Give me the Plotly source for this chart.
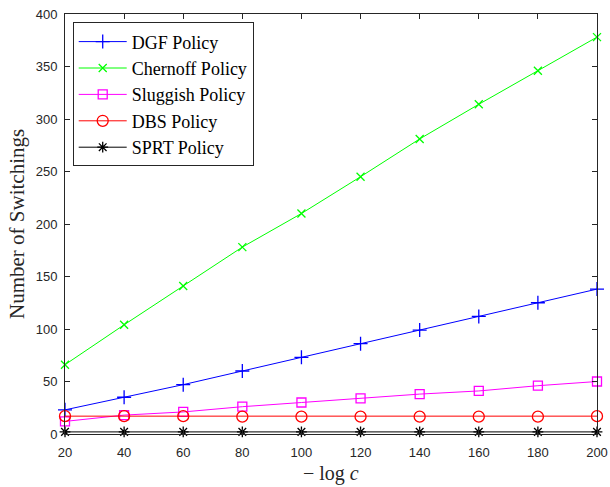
import plotly.graph_objects as go

x_vals = [20, 40, 60, 80, 100, 120, 140, 160, 180, 200]
dgf = [23, 35, 47, 60, 73, 86, 99, 112, 125, 138]
chernoff = [66, 104, 141, 178, 210, 245, 281, 314, 346, 378]
sluggish = [12, 18, 21, 26, 30, 34, 38, 41, 46, 50]
dbs = [17, 17, 17, 16.5, 16.5, 16.5, 16.5, 16.5, 16.5, 17]
sprt = [2, 2, 2, 2, 2, 2, 2, 2, 2, 2]

names = ["DGF Policy", "Chernoff Policy", "Sluggish Policy", "DBS Policy", "SPRT Policy"]
series = [dgf, chernoff, sluggish, dbs, sprt]
colors = ["#0000ff", "#00ff00", "#ff00ff", "#ff0000", "#000000"]
symbols = ["cross-thin-open", "x-thin-open", "square-open", "circle-open", "asterisk-open"]
sizes = [10, 8, 9, 11, 9]

SANS = "Arial"
SERIF = "Times New Roman"
AX = "#262626"

fig = go.Figure()
for n, s, c, sym, sz in zip(names, series, colors, symbols, sizes):
    fig.add_trace(go.Scatter(
        x=x_vals, y=s, name=n, mode="lines+markers", cliponaxis=False,
        line=dict(color=c, width=1),
        marker=dict(symbol=sym, size=sz, color=c, line=dict(color=c, width=1.3)),
    ))

axis_common = dict(
    showgrid=False, zeroline=False, showline=True, mirror="ticks",
    linecolor=AX, linewidth=1, ticks="inside", ticklen=5,
    tickcolor=AX, automargin=False, ticklabeloverflow="allow",
    tickfont=dict(family=SANS, size=13, color=AX),
)

fig.update_layout(
    width=610, height=487,
    margin=dict(l=65, r=13, t=14, b=53),
    paper_bgcolor="white", plot_bgcolor="white",
    xaxis=dict(range=[20, 200], tickvals=list(range(20, 201, 20)),
               ticklabelstandoff=6, **axis_common),
    yaxis=dict(range=[0, 400], tickvals=list(range(0, 401, 50)),
               ticklabelstandoff=4, **axis_common),
    legend=dict(x=0.0145, y=0.980, xanchor="left", yanchor="top",
                bgcolor="white", bordercolor=AX, borderwidth=1,
                font=dict(family=SERIF, size=18, color="#000000"),
                tracegroupgap=0, itemwidth=48),
    showlegend=True,
    annotations=[
        dict(text="\u2212 log <i>c</i>", xref="paper", yref="paper", x=0.5, y=-0.093,
             xanchor="center", yanchor="middle", showarrow=False,
             font=dict(family=SERIF, size=20, color=AX)),
        dict(text="Number of Switchings", xref="paper", yref="paper", x=-0.0902, y=0.5,
             xanchor="center", yanchor="middle", textangle=-90, showarrow=False,
             font=dict(family=SERIF, size=21, color=AX)),
    ],
)

fig.write_html("out.html", config={"displayModeBar": False},
               post_script="document.body.style.margin='0';")
